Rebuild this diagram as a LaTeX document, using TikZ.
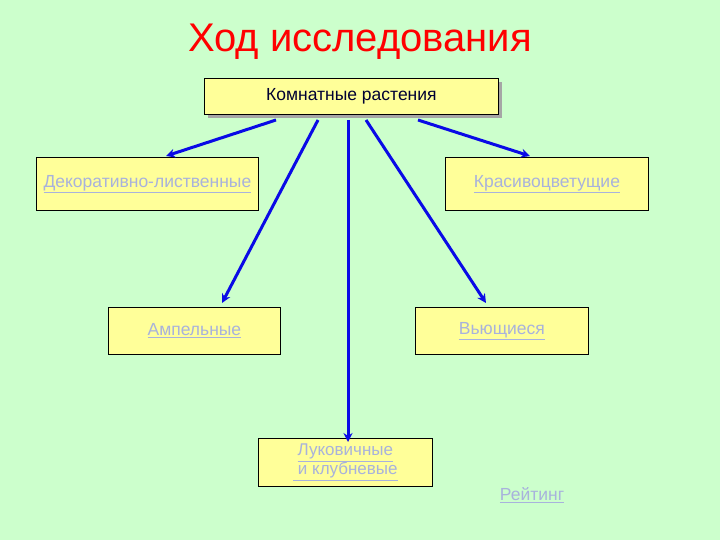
\documentclass[tikz,border=0pt]{standalone}
\usepackage{fontspec}
\setmainfont{Liberation Sans}
\usetikzlibrary{arrows.meta}
\definecolor{bg}{HTML}{CCFFCC}
\definecolor{boxf}{HTML}{FFFF99}
\definecolor{lnk}{HTML}{A8B2DC}
\definecolor{arr}{HTML}{0A0AE6}
\newcommand{\ul}[1]{\underline{#1}}
\begin{document}
\begin{tikzpicture}[x=1pt,y=-1pt,
  box/.style={draw=black,fill=boxf,line width=0.8pt,anchor=north west,inner sep=0pt},
  lt/.style={text=lnk,font=\fontsize{17.5}{19}\selectfont,align=center},
  con/.style={draw=arr,line width=3pt,-{Stealth[length=9pt,width=9pt]}}]
\fill[bg] (0,0) rectangle (720,540);
\useasboundingbox (0,0) rectangle (720,540);
\node[text=red,font=\fontsize{40}{44}\selectfont] (title) at (360,42) {Ход исследования};
\fill[gray!70] (208,82) rectangle (502,118);
\node[box,minimum width=294pt,minimum height=36pt] (top) at (204,78) {};
\node[font=\fontsize{17.5}{19}\selectfont,text=black!80!blue] at (top.center) {Комнатные растения};
\node[box,minimum width=222pt,minimum height=53pt] (d) at (36,157) {};
\node[lt] at (d.center) {\ul{Декоративно-лиственные}};
\node[box,minimum width=203pt,minimum height=53pt] (k) at (445,157) {};
\node[lt] at (k.center) {\ul{Красивоцветущие}};
\node[box,minimum width=172pt,minimum height=47pt] (a) at (108,307) {};
\node[lt] at (a.center) {\ul{Ампельные}};
\node[box,minimum width=173pt,minimum height=47pt] (v) at (415,307) {};
\node[lt] at (v.center) {\ul{Вьющиеся}};
\node[box,minimum width=174pt,minimum height=48pt] (l) at (258,438) {};
\node[lt,font=\fontsize{17}{19}\selectfont] at (l.center) {\ul{Луковичные}\\\ul{ и клубневые}};
\node[lt] (r) at (532,495) {\ul{Рейтинг}};
\coordinate (s1) at (276,120); \coordinate (e1) at (166,156);
\coordinate (s2) at (318,120); \coordinate (e2) at (222,303);
\coordinate (s3) at (348,120); \coordinate (e3) at (348,442);
\coordinate (s4) at (366,120); \coordinate (e4) at (486,303);
\coordinate (s5) at (418,120); \coordinate (e5) at (530,156);
\draw[con] (s1) -- (e1);
\draw[con] (s2) -- (e2);
\draw[con] (s3) -- (e3);
\draw[con] (s4) -- (e4);
\draw[con] (s5) -- (e5);
\end{tikzpicture}
\end{document}
